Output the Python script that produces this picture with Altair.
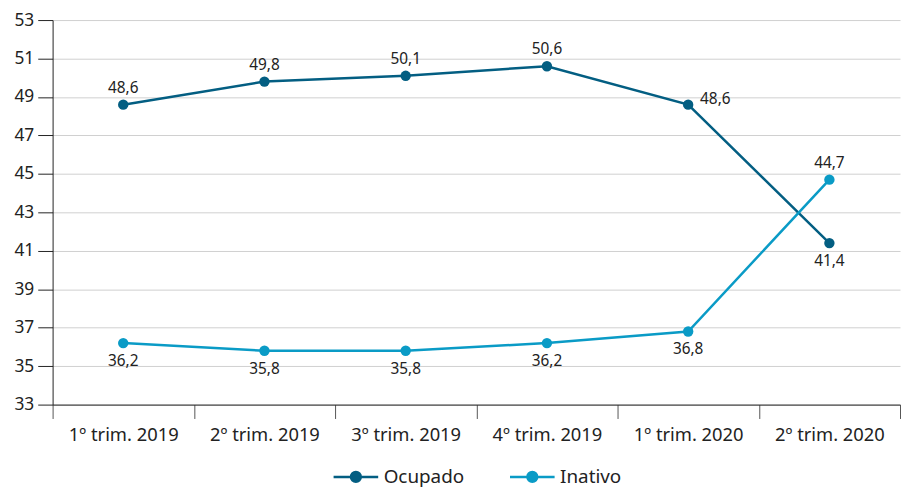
import altair as alt
import pandas as pd

quarters = ["1º trim. 2019", "2º trim. 2019", "3º trim. 2019", "4º trim. 2019", "1º trim. 2020", "2º trim. 2020"]
ocupado = [48.6, 49.8, 50.1, 50.6, 48.6, 41.4]
inativo = [36.2, 35.8, 35.8, 36.2, 36.8, 44.7]
series = ["Ocupado", "Inativo"]
colors = ["#035e82", "#0a9bc6"]

rows = []
for i, q in enumerate(quarters):
    for s, vals in zip(series, [ocupado, inativo]):
        v = vals[i]
        rows.append({"q": q, "idx": i, "serie": s, "v": v, "label": f"{v:.1f}".replace(".", ",")})
df = pd.DataFrame(rows)

FONT = "Noto Sans"

x = alt.X("q:N", sort=quarters, title=None,
          scale=alt.Scale(type="band", paddingInner=0, paddingOuter=0),
          axis=alt.Axis(labelAngle=0, tickBand="extent", tickSize=14, tickColor="#555",
                        domainColor="#222", labelFontSize=18.5, labelColor="#222",
                        labelPadding=7, labelFont=FONT, grid=False))
y = alt.Y("v:Q", title=None,
          scale=alt.Scale(domain=[33, 53], nice=False, zero=False),
          axis=alt.Axis(values=list(range(33, 54, 2)), tickSize=15, tickColor="#222",
                        domainColor="#222", labelFontSize=17.5, labelColor="#222",
                        labelPadding=4, labelFont=FONT, grid=True, gridColor="#cfcfcf",
                        gridWidth=1))

LEG_PATH = "M-1,0H-0.22A0.22,0.22 0 1,1 0.22,0H1M0.22,0A0.22,0.22 0 1,1 -0.22,0"

def legend(label_color):
    return alt.Legend(title=None, orient="none", direction="horizontal",
                      legendX=282, legendY=437,
                      symbolType=LEG_PATH, symbolSize=2025, symbolStrokeWidth=2.5,
                      labelFontSize=19, labelColor=label_color, labelFont=FONT,
                      labelOffset=4, columnPadding=40)

color = alt.Color("serie:N", sort=series, scale=alt.Scale(domain=series, range=colors),
                  legend=legend("#222"))
fill = alt.Fill("serie:N", sort=series, scale=alt.Scale(domain=series, range=colors),
                legend=legend("#222"))

base = alt.Chart(df)
lines = base.mark_line(strokeWidth=2.5).encode(x=x, y=y, color=color)
points = base.mark_point(size=110, filled=True, opacity=1, strokeWidth=0).encode(x=x, y=y, fill=fill)

txt = dict(fontSize=15.5, font=FONT, color="#222")
above = base.mark_text(dy=-17, **txt).encode(x=x, y=y, text="label:N").transform_filter(
    "(datum.serie == 'Ocupado' && datum.idx < 4) || (datum.serie == 'Inativo' && datum.idx == 5)")
below = base.mark_text(dy=18, **txt).encode(x=x, y=y, text="label:N").transform_filter(
    "(datum.serie == 'Inativo' && datum.idx < 5) || (datum.serie == 'Ocupado' && datum.idx == 5)")
right = base.mark_text(dx=12, dy=-6, align="left", **txt).encode(x=x, y=y, text="label:N").transform_filter(
    "datum.serie == 'Ocupado' && datum.idx == 4")

chart = alt.layer(lines, points, above, below, right).properties(
    width=855, height=388,
    autosize=alt.AutoSizeParams(type="none"),
    padding={"left": 45, "top": 10, "right": 2, "bottom": 85},
).configure_view(stroke=None)

chart.save("out.html", embed_options={"renderer": "svg", "actions": False})
